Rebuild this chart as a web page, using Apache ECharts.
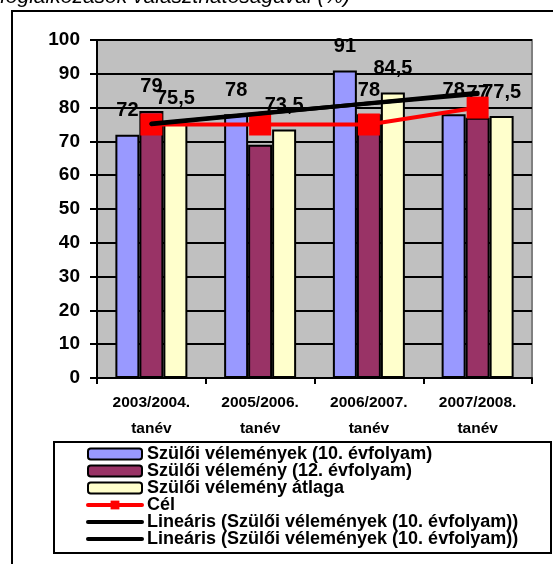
<!DOCTYPE html>
<html>
<head>
<meta charset="utf-8">
<script src="https://cdn.jsdelivr.net/npm/echarts@6/dist/echarts.min.js"></script>
<style>
  html, body { margin: 0; padding: 0; background: #ffffff; }
  #chart { width: 553px; height: 564px; }
</style>
</head>
<body>
<div id="chart"></div>
<script>
// School years on the category axis
const categories = ['2003/2004.\ntanév', '2005/2006.\ntanév', '2006/2007.\ntanév', '2007/2008.\ntanév'];

// Parent survey results (%)
const velemeny10 = [72, 78, 91, 78];      // Szülői vélemények (10. évfolyam)
const velemeny12 = [79, 69, 78, 77];      // Szülői vélemény (12. évfolyam)
const atlag = [75.5, 73.5, 84.5, 77.5];   // Szülői vélemény átlaga
const cel = [75, 75, 75, 80];             // Cél
const trendA = [75.1, 78.2, 81.3, 84.4];  // Lineáris trend
const trendB = [75.3, 78.3, 81.2, 84.0];  // Lineáris trend (second)

const names = [
  'Szülői vélemények (10. évfolyam)',
  'Szülői vélemény (12. évfolyam)',
  'Szülői vélemény átlaga',
  'Cél',
  'Lineáris (Szülői vélemények (10. évfolyam))',
  'Lineáris (Szülői vélemények (10. évfolyam)) '
];

const FONT = '"Liberation Sans", Arial, sans-serif';
const fmt = p => String(p.value).replace('.', ',');

const barLabel = {
  show: true,
  position: 'top',
  distance: 14,
  color: '#000',
  fontFamily: FONT,
  fontWeight: 'bold',
  fontSize: 20,
  formatter: fmt
};

function barSeries(name, data, color) {
  return {
    name: name,
    type: 'bar',
    data: data,
    barWidth: 24,
    barGap: '0%',
    z: 2,
    itemStyle: { color: color, borderColor: '#000', borderWidth: 2 },
    label: barLabel
  };
}

function trendSeries(name, data) {
  return {
    name: name,
    type: 'line',
    data: data,
    z: 5,
    symbol: 'none',
    itemStyle: { color: '#000' },
    lineStyle: { color: '#000', width: 4, cap: 'round' }
  };
}

// Legend entries: line items get a thick stroke; trend items show only the stroke
const legendData = names.map((n, i) => {
  if (i < 3) return n;
  const item = { name: n, lineStyle: { width: 4, cap: 'round' } };
  if (i >= 4) item.itemStyle = { opacity: 0 };
  return item;
});

const chart = echarts.init(document.getElementById('chart'), null, { renderer: 'canvas' });

chart.setOption({
  animation: false,
  backgroundColor: '#ffffff',
  graphic: [
    {
      type: 'text',
      left: 0,
      top: -13,
      style: {
        text: 'foglalkozások választhatóságával (%)',
        font: 'italic 21px ' + FONT,
        fill: '#000'
      }
    },
    {
      type: 'rect',
      shape: { x: 12, y: 11, width: 600, height: 600 },
      style: { fill: 'none', stroke: '#000', lineWidth: 2 },
      silent: true
    },
    {
      type: 'rect',
      shape: { x: 54, y: 442, width: 497, height: 111 },
      style: { fill: 'none', stroke: '#000', lineWidth: 2 },
      silent: true
    }
  ],
  grid: {
    left: 97,
    top: 40,
    right: 21,
    bottom: 186,
    show: true,
    backgroundColor: '#c0c0c0',
    borderColor: '#808080',
    borderWidth: 2
  },
  legend: {
    orient: 'vertical',
    left: 86,
    top: 445,
    padding: 0,
    itemWidth: 54,
    itemHeight: 11,
    itemGap: -1,
    data: legendData,
    textStyle: {
      color: '#000',
      fontFamily: FONT,
      fontWeight: 'bold',
      fontSize: 18,
      lineHeight: 17
    }
  },
  xAxis: {
    type: 'category',
    data: categories,
    axisLine: { lineStyle: { color: '#000', width: 2 } },
    axisTick: { show: true, length: 6, lineStyle: { color: '#000', width: 2 } },
    axisLabel: {
      color: '#000',
      fontFamily: FONT,
      fontWeight: 'bold',
      fontSize: 15.5,
      lineHeight: 26,
      margin: 12,
      interval: 0
    },
    splitLine: { show: false }
  },
  yAxis: {
    type: 'value',
    min: 0,
    max: 100,
    interval: 10,
    axisLine: { show: true, lineStyle: { color: '#000', width: 2 } },
    axisTick: { show: true, length: 7, lineStyle: { color: '#000', width: 2 } },
    axisLabel: {
      color: '#000',
      fontFamily: FONT,
      fontWeight: 'bold',
      fontSize: 19,
      margin: 17
    },
    splitLine: { show: true, lineStyle: { color: '#000', width: 2 } }
  },
  series: [
    barSeries(names[0], velemeny10, '#9999ff'),
    barSeries(names[1], velemeny12, '#993366'),
    barSeries(names[2], atlag, '#ffffcc'),
    {
      name: names[3],
      type: 'line',
      data: cel,
      z: 4,
      symbol: 'rect',
      symbolSize: 22,
      itemStyle: { color: '#ff0000' },
      lineStyle: { color: '#ff0000', width: 4 }
    },
    trendSeries(names[4], trendA),
    trendSeries(names[5], trendB)
  ]
});
</script>
</body>
</html>
